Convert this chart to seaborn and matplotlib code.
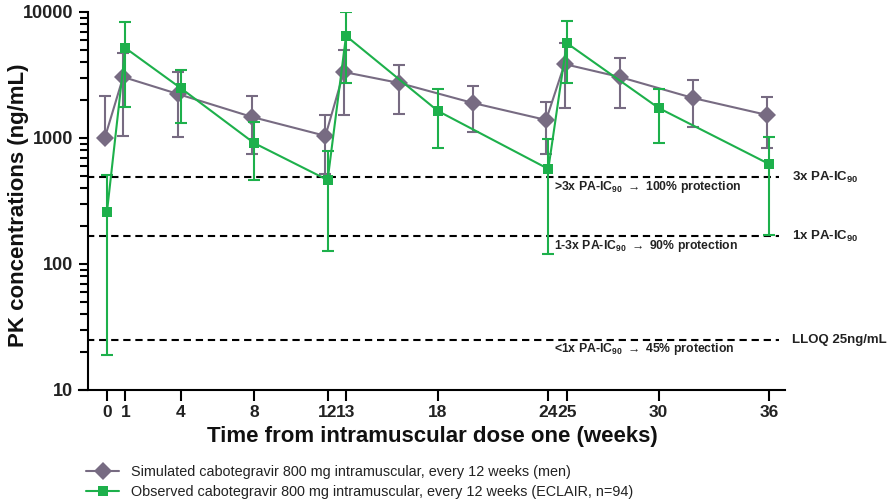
import numpy as np
import pandas as pd
import matplotlib
matplotlib.use("Agg")
import matplotlib.pyplot as plt
import seaborn as sns

# ---- data ----
sim_weeks = [0, 1, 4, 8, 12, 13, 16, 20, 24, 25, 28, 32, 36]
sim_mean = [1000, 3050, 2230, 1470, 1040, 3340, 2735, 1900, 1390, 3860, 3050, 2075, 1525]
sim_upper = [2155, 4730, 3340, 2155, 1525, 4990, 3790, 2590, 1930, 5670, 4310, 2885, 2115]
sim_lower = [960, 1040, 1020, 747, 520, 1525, 1550, 1117, 747, 1730, 1730, 1220, 834]

obs_weeks = [0, 1, 4, 8, 12, 13, 18, 24, 25, 30, 36]
obs_mean = [259, 5180, 2495, 912, 464, 6460, 1637, 568, 5670, 1730, 622]
obs_upper = [508, 8330, 3470, 1350, 789, 10000, 2450, 982, 8490, 2450, 1018]
obs_lower = [19, 1760, 1315, 464, 127, 2735, 834, 120, 2735, 912, 170]

ref_levels = [490, 166, 25]
ref_labels = ["3x PA-IC$_{90}$", "1x PA-IC$_{90}$", "LLOQ 25ng/mL"]
zone_labels = [">3x PA-IC$_{90}$ $\\rightarrow$ 100% protection",
               "1-3x PA-IC$_{90}$ $\\rightarrow$ 90% protection",
               "<1x PA-IC$_{90}$ $\\rightarrow$ 45% protection"]
zone_y = [410, 140, 21]

xticks = [0, 1, 4, 8, 12, 13, 18, 24, 25, 30, 36]
yticks = [10, 100, 1000, 10000]

sim_label = "Simulated cabotegravir 800 mg intramuscular, every 12 weeks (men)"
obs_label = "Observed cabotegravir 800 mg intramuscular, every 12 weeks (ECLAIR, n=94)"

GREY = "#776b82"
GREEN = "#1db04b"

sns.set_theme(style="ticks")
plt.rcParams["font.family"] = ["Liberation Sans", "DejaVu Sans"]
plt.rcParams["mathtext.default"] = "regular"

sim_df = pd.DataFrame({"week": np.array(sim_weeks) - 0.12, "conc": sim_mean, "series": sim_label})
obs_df = pd.DataFrame({"week": obs_weeks, "conc": obs_mean, "series": obs_label})

fig = plt.figure(figsize=(8.94, 4.99), dpi=100)
ax = fig.add_axes([79 / 894, 1 - 390 / 499, (785 - 79) / 894, (390 - 12) / 499])

# error bars
ax.errorbar(sim_df["week"], sim_mean,
            yerr=[np.array(sim_mean) - np.array(sim_lower), np.array(sim_upper) - np.array(sim_mean)],
            fmt="none", ecolor=GREY, elinewidth=1.5, capsize=4, capthick=1.5, zorder=2)
ax.errorbar(obs_df["week"], obs_mean,
            yerr=[np.array(obs_mean) - np.array(obs_lower), np.array(obs_upper) - np.array(obs_mean)],
            fmt="none", ecolor=GREEN, elinewidth=1.5, capsize=4, capthick=1.5, zorder=4)

sns.lineplot(data=sim_df, x="week", y="conc", ax=ax, color=GREY, linewidth=1.5,
             marker="D", markersize=9, markeredgewidth=0, label=sim_label, zorder=3,
             estimator=None, sort=False, legend=False)
sns.lineplot(data=obs_df, x="week", y="conc", ax=ax, color=GREEN, linewidth=1.5,
             marker="s", markersize=7.5, markeredgewidth=0, label=obs_label, zorder=5,
             estimator=None, sort=False, legend=False)

# reference lines
for lvl, lab in zip(ref_levels, ref_labels):
    ax.axhline(lvl, xmin=0.012, xmax=0.992, color="black", linewidth=1.5,
               dashes=(3.5, 2.3), zorder=1)
    ax.text(1.01, lvl, lab, transform=ax.get_yaxis_transform(), va="center", ha="left",
            fontsize=9.5, fontweight="bold", color="#222222", clip_on=False)
for yv, lab in zip(zone_y, zone_labels):
    ax.text(24.3, yv, lab, va="center", ha="left", fontsize=8.8, fontweight="bold",
            color="#222222")

ax.set_yscale("log")
ax.set_ylim(10, 10000)
ax.set_xlim(-1.52, 36.87)
ax.set_yticks(yticks)
ax.set_yticklabels([str(v) for v in yticks])
ax.set_xticks(xticks)
ax.set_xticklabels([str(v) for v in xticks])

for s in ["top", "right"]:
    ax.spines[s].set_visible(False)
ax.spines["left"].set_position(("data", -1.03))
for s in ["left", "bottom"]:
    ax.spines[s].set_linewidth(1.5)
    ax.spines[s].set_color("black")

ax.tick_params(axis="y", which="major", length=6.5, width=1.5, direction="out",
               labelsize=13, pad=4, color="black")
ax.tick_params(axis="y", which="minor", length=6, width=1.5, direction="out", color="black")
ax.tick_params(axis="x", which="major", length=8, width=1.5, direction="out",
               labelsize=12.5, pad=3, color="black")
for lab in ax.get_xticklabels() + ax.get_yticklabels():
    lab.set_fontweight("bold")
    lab.set_color("#222222")

ax.set_xlabel("Time from intramuscular dose one (weeks)", fontsize=16, fontweight="bold",
              labelpad=4, color="#111111")
ax.set_ylabel("PK concentrations (ng/mL)", fontsize=16, fontweight="bold", color="#111111")
ax.yaxis.label.set_verticalalignment("center")
ax.yaxis.set_label_coords((19 - 79) / 706, 0.49)
ax.grid(False)

handles, labels = ax.get_legend_handles_labels()
leg = fig.legend(handles, labels, loc="upper left", bbox_to_anchor=(86 / 894, 1 - 465 / 499),
                 frameon=False, fontsize=10.4, handlelength=2.3, handletextpad=0.8,
                 labelspacing=0.4, borderpad=0, borderaxespad=0)
for t in leg.get_texts():
    t.set_color("#222222")

fig.savefig("out.png", dpi=100)
